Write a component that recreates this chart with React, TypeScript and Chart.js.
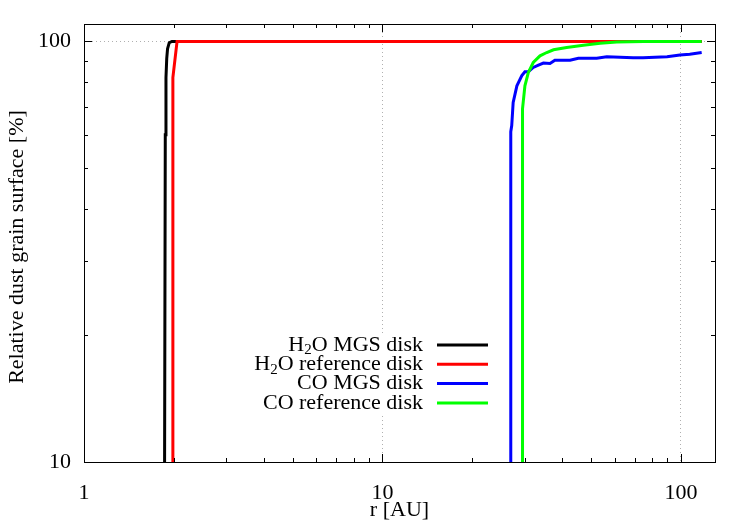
import React, { useEffect, useRef } from 'react';
import { Chart, registerables } from 'chart.js';

Chart.register(...registerables);

const SERIF = '"Liberation Serif", "DejaVu Serif", serif';
const FONT_SIZE = 22;

// Series labels and colours
const seriesLabels = ['H₂O MGS disk', 'H₂O reference disk', 'CO MGS disk', 'CO reference disk'];
const seriesColors = ['#000000', '#ff0000', '#0000ff', '#00ff00'];

// H2O snow line, MGS disk
const h2oMgsR = [1.862, 1.872, 1.882, 1.893, 1.905, 1.93, 1.97, 117.3];
const h2oMgsPct = [10, 60, 82, 91, 96, 99.3, 100, 100];

// H2O snow line, reference disk
const h2oRefR = [1.975, 1.985, 2.05, 117.3];
const h2oRefPct = [10, 82, 100, 100];

// CO snow line, MGS disk
const coMgsR = [26.9, 26.9, 27.1, 27.4, 28.2, 29.3, 30.0, 30.8, 32.0, 33.3, 34.6, 36.4, 37.8, 42.5, 45.3, 52.2, 56.4, 62.5, 69.1, 74.6, 89.8, 99.2, 107, 117.3];
const coMgsPct = [10, 61, 63.1, 71.6, 78.4, 82.9, 84.7, 84.7, 86.7, 87.8, 88.8, 88.6, 90.2, 90.2, 91.2, 91.2, 91.9, 91.7, 91.4, 91.5, 92.0, 92.8, 93.2, 94.1];

// CO snow line, reference disk
const coRefR = [29.4, 29.4, 29.5, 30.0, 30.8, 32.0, 33.7, 35.5, 37.4, 41.4, 47.1, 53.6, 60.9, 75, 99.2, 117.3];
const coRefPct = [10, 66, 69.1, 78.4, 84.3, 89.1, 92.4, 94.1, 95.5, 96.7, 97.9, 99.0, 99.7, 99.9, 100, 100];

// Axis ranges and labelled ticks
const xMin = 1;
const xMax = 130;
const yMin = 10;
const yMax = 110;
const xTickLabels = [1, 10, 100];
const yTickLabels = [10, 100];
const xMinorTicks = [2, 3, 4, 5, 6, 7, 8, 9, 20, 30, 40, 50, 60, 70, 80, 90];
const yMinorTicks = [20, 30, 40, 50, 60, 70, 80, 90];
const xGridValues = [10, 100];
const yGridValues = [100];

const xTitle = 'r [AU]';
const yTitle = 'Relative dust grain surface [%]';

const toPoints = (xs: number[], ys: number[]) => xs.map((x, i) => ({ x, y: ys[i] }));

// Draws text right-aligned at xRight, turning "₂" into a lowered small "2"
function drawRich(ctx: CanvasRenderingContext2D, text: string, xRight: number, yMid: number, size: number) {
  const runs: { t: string; sub: boolean }[] = [];
  for (const ch of text) {
    const sub = ch === '₂';
    const t = sub ? '2' : ch;
    const last = runs[runs.length - 1];
    if (last && last.sub === sub) last.t += t;
    else runs.push({ t, sub });
  }
  const normalFont = `${size}px ${SERIF}`;
  const subFont = `${Math.round(size * 0.7)}px ${SERIF}`;
  let total = 0;
  const widths = runs.map((r) => {
    ctx.font = r.sub ? subFont : normalFont;
    const w = ctx.measureText(r.t).width;
    total += w;
    return w;
  });
  let x = xRight - total;
  ctx.textAlign = 'left';
  ctx.textBaseline = 'middle';
  runs.forEach((r, i) => {
    ctx.font = r.sub ? subFont : normalFont;
    ctx.fillText(r.t, x, r.sub ? yMid + size * 0.25 : yMid);
    x += widths[i];
  });
}

const framePlugin = {
  id: 'gnuplotFrame',
  beforeDatasetsDraw(chart: any) {
    const ctx = chart.ctx as CanvasRenderingContext2D;
    // opaque key box
    ctx.save();
    ctx.fillStyle = '#ffffff';
    ctx.fillRect(240, 334, 256, 79);
    ctx.restore();
  },
  afterDatasetsDraw(chart: any) {
    const ctx = chart.ctx as CanvasRenderingContext2D;
    const { left, right, top, bottom } = chart.chartArea;
    const xs = chart.scales.x;
    const ys = chart.scales.y;
    ctx.save();
    ctx.strokeStyle = '#000000';
    ctx.lineWidth = 1;
    ctx.beginPath();
    const major = 8;
    const minor = 4;
    const xTick = (v: number, len: number) => {
      const px = Math.round(xs.getPixelForValue(v)) + 0.5;
      ctx.moveTo(px, bottom);
      ctx.lineTo(px, bottom - len);
      ctx.moveTo(px, top);
      ctx.lineTo(px, top + len);
    };
    const yTick = (v: number, len: number) => {
      const py = Math.round(ys.getPixelForValue(v)) + 0.5;
      ctx.moveTo(left, py);
      ctx.lineTo(left + len, py);
      ctx.moveTo(right, py);
      ctx.lineTo(right - len, py);
    };
    xTickLabels.forEach((v) => xTick(v, major));
    xMinorTicks.forEach((v) => xTick(v, minor));
    yTickLabels.forEach((v) => yTick(v, major));
    yMinorTicks.forEach((v) => yTick(v, minor));
    ctx.stroke();
    ctx.strokeRect(Math.round(left) + 0.5, Math.round(top) + 0.5, Math.round(right - left), Math.round(bottom - top));
    ctx.restore();
  },
  afterDraw(chart: any) {
    const ctx = chart.ctx as CanvasRenderingContext2D;
    const { left, right, top, bottom } = chart.chartArea;
    ctx.save();
    ctx.fillStyle = '#000000';
    // axis titles
    ctx.font = `${FONT_SIZE}px ${SERIF}`;
    ctx.textAlign = 'center';
    ctx.textBaseline = 'middle';
    ctx.fillText(xTitle, (left + right) / 2, 510);
    ctx.save();
    ctx.translate(17, (top + bottom) / 2 + 4);
    ctx.rotate(-Math.PI / 2);
    ctx.fillText(yTitle, 0, 0);
    ctx.restore();
    // key
    const rows = [345, 364.3, 383.6, 403];
    seriesLabels.forEach((label, i) => {
      ctx.fillStyle = '#000000';
      drawRich(ctx, label, 423, rows[i], FONT_SIZE);
      ctx.strokeStyle = seriesColors[i];
      ctx.lineWidth = 3;
      ctx.beginPath();
      ctx.moveTo(437, rows[i]);
      ctx.lineTo(488, rows[i]);
      ctx.stroke();
    });
    ctx.restore();
  },
};

export default function App() {
  const canvasRef = useRef<HTMLCanvasElement | null>(null);

  useEffect(() => {
    const canvas = canvasRef.current;
    if (!canvas) return;
    const series = [
      toPoints(h2oMgsR, h2oMgsPct),
      toPoints(h2oRefR, h2oRefPct),
      toPoints(coMgsR, coMgsPct),
      toPoints(coRefR, coRefPct),
    ];
    const chart = new Chart(canvas, {
      type: 'scatter',
      data: {
        datasets: series.map((data, i) => ({
          label: seriesLabels[i],
          data,
          showLine: true,
          borderColor: seriesColors[i],
          backgroundColor: seriesColors[i],
          borderWidth: 3,
          pointRadius: 0,
          tension: 0,
          // later series are drawn on top
          order: series.length - i,
        })),
      },
      options: {
        animation: false,
        responsive: false,
        devicePixelRatio: 1,
        layout: { padding: { top: 23, right: 35, bottom: 22, left: 24 } },
        plugins: { legend: { display: false }, tooltip: { enabled: false } },
        scales: {
          x: {
            type: 'logarithmic',
            min: xMin,
            max: xMax,
            afterFit: (s: any) => {
              s.height = 41;
            },
            border: { display: false, dash: [1, 3] },
            grid: {
              drawTicks: false,
              lineWidth: 1,
              color: (c: any) => (xGridValues.includes(c.tick?.value) ? '#b0b0b0' : 'rgba(0,0,0,0)'),
            },
            ticks: {
              autoSkip: false,
              maxRotation: 0,
              padding: 20,
              color: '#000000',
              font: { family: SERIF, size: FONT_SIZE, lineHeight: 1 },
              callback: (v: any) => (xTickLabels.includes(Number(v)) ? String(v) : ''),
            },
          },
          y: {
            type: 'logarithmic',
            min: yMin,
            max: yMax,
            afterFit: (s: any) => {
              s.width = 60;
            },
            border: { display: false, dash: [1, 3] },
            grid: {
              drawTicks: false,
              lineWidth: 1,
              color: (c: any) => (yGridValues.includes(c.tick?.value) ? '#b0b0b0' : 'rgba(0,0,0,0)'),
            },
            ticks: {
              autoSkip: false,
              padding: 13,
              color: '#000000',
              font: { family: SERIF, size: FONT_SIZE, lineHeight: 1 },
              callback: (v: any) => (yTickLabels.includes(Number(v)) ? String(v) : ''),
            },
          },
        },
      },
      plugins: [framePlugin],
    });
    return () => chart.destroy();
  }, []);

  return (
    <div style={{ position: 'fixed', left: 0, top: 0, width: 750, height: 525, background: '#ffffff' }}>
      <canvas ref={canvasRef} width={750} height={525} style={{ width: 750, height: 525 }} />
    </div>
  );
}
